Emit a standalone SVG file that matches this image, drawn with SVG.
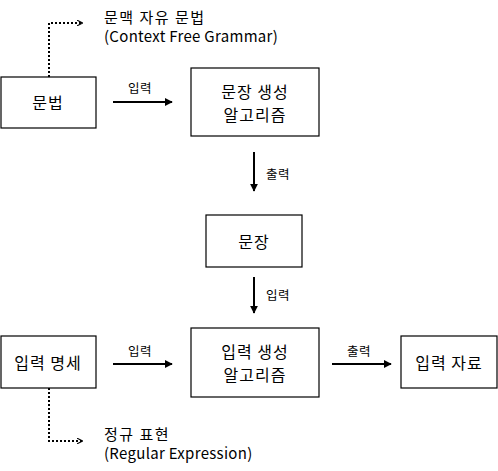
<svg xmlns="http://www.w3.org/2000/svg" width="498" height="471" viewBox="0 0 498 471">
<defs>
<style>
.box{fill:#fff;stroke:#000;stroke-width:1.2}
.t{font-family:"Noto Sans CJK KR","Noto Sans",sans-serif;font-size:16px;letter-spacing:1px;fill:#000;text-anchor:middle;dominant-baseline:central}
.a{font-family:"Noto Sans CJK KR","Noto Sans",sans-serif;font-size:15px;fill:#000;dominant-baseline:central}
.k{letter-spacing:1.5px}
.e{letter-spacing:0.3px}
.l{font-family:"Noto Sans CJK KR","Noto Sans",sans-serif;font-size:12.5px;letter-spacing:0.5px;fill:#000;dominant-baseline:central}
.c{stroke:#000;stroke-width:2;fill:none}
.d{stroke:#000;stroke-width:2;fill:none;stroke-dasharray:2 2}
</style>
<marker id="ah" viewBox="0 0 10 10" refX="9" refY="5" markerWidth="4" markerHeight="4" orient="auto" markerUnits="strokeWidth"><path d="M0,0L10,5L0,10z" fill="#000"/></marker>
<marker id="ahs" viewBox="0 0 10 10" refX="9" refY="5" markerWidth="3" markerHeight="3" orient="auto" markerUnits="strokeWidth"><path d="M0,0L10,5L0,10" fill="none" stroke="#000" stroke-width="2"/></marker>
</defs>
<g id="connectors">
<path class="d" d="M49,77V23H82" marker-end="url(#ahs)"/>
<path class="c" d="M113,102H172" marker-end="url(#ah)"/>
<text class="l" x="128" y="87">입력</text>
<path class="c" d="M254,152V191" marker-end="url(#ah)"/>
<text class="l" x="266" y="173">출력</text>
<path class="c" d="M254,277V313" marker-end="url(#ah)"/>
<text class="l" x="266" y="294">입력</text>
<path class="c" d="M113,364H172" marker-end="url(#ah)"/>
<text class="l" x="128" y="350">입력</text>
<path class="c" d="M332,364H391" marker-end="url(#ah)"/>
<text class="l" x="347" y="350">출력</text>
<path class="d" d="M49,388V441H82" marker-end="url(#ahs)"/>
</g>
<g id="note-cfg">
<text class="a k" x="104" y="16">문맥 자유 문법</text>
<text class="a e" x="104" y="35">(Context Free Grammar)</text>
</g>
<g id="grammar">
<rect class="box" x="1" y="77" width="95" height="51"/>
<text class="t" x="48" y="102">문법</text>
</g>
<g id="sentence-gen">
<rect class="box" x="191" y="68" width="128" height="68"/>
<text class="t" x="255" y="91">문장 생성</text>
<text class="t" x="255" y="114">알고리즘</text>
</g>
<g id="sentence">
<rect class="box" x="206" y="215" width="96" height="52"/>
<text class="t" x="254" y="241">문장</text>
</g>
<g id="input-spec">
<rect class="box" x="1" y="336" width="95" height="52"/>
<text class="t" x="48" y="362">입력 명세</text>
</g>
<g id="input-gen">
<rect class="box" x="191" y="328" width="128" height="69"/>
<text class="t" x="255" y="351">입력 생성</text>
<text class="t" x="255" y="374">알고리즘</text>
</g>
<g id="input-data">
<rect class="box" x="401" y="336" width="96" height="52"/>
<text class="t" x="449" y="362">입력 자료</text>
</g>
<g id="note-re">
<text class="a k" x="104" y="433">정규 표현</text>
<text class="a e" x="104" y="452">(Regular Expression)</text>
</g>
</svg>
